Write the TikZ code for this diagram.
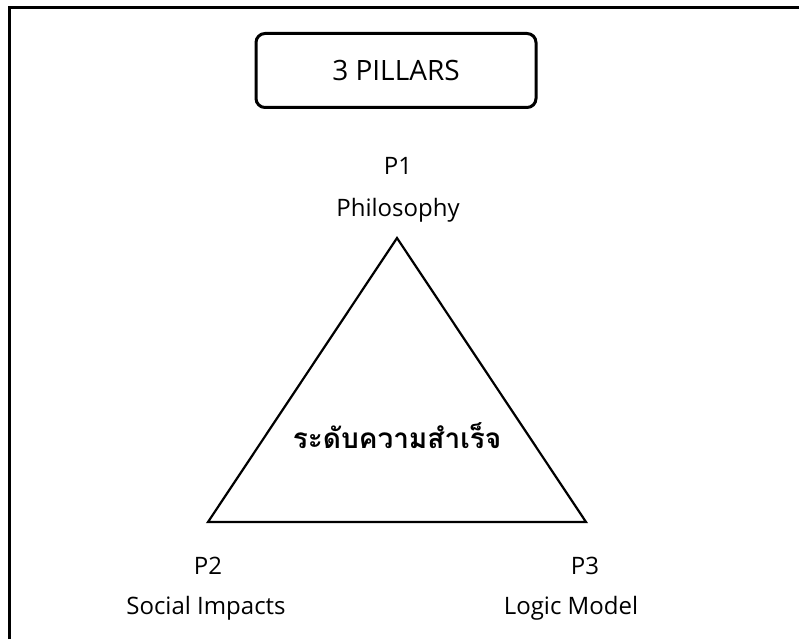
\documentclass[tikz,border=0pt]{standalone}
\usepackage{fontspec}
\setmainfont{Open Sans}
\newfontfamily\thaifont[Script=Thai]{Loma}
\begin{document}
\begin{tikzpicture}[x=1pt,y=-1pt,
  lbl/.style={font=\fontsize{24}{28}\selectfont, inner sep=0pt},
  titlebox/.style={draw, line width=3pt, rounded corners=9pt, minimum width=280pt, minimum height=74pt, font=\fontsize{28}{32}\selectfont},
  tri/.style={line width=2.2pt, line join=miter}]
\useasboundingbox (0,0) rectangle (799,639);
\draw[line width=3pt] (9.5,639) -- (9.5,7.5) -- (799,7.5);
\node[titlebox] (title) at (396,70.5) {3 PILLARS};
\coordinate (a) at (397,238);
\coordinate (b) at (208,522);
\coordinate (c) at (586,522);
\draw[tri] (a) -- (b) -- (c) -- cycle;
\node[font=\thaifont\bfseries\fontsize{28}{32}\selectfont, inner sep=0pt] (center) at (397,436) {ระดับความสำเร็จ};
\node[lbl] (p1) at (398,166) {P1};
\node[lbl] (p1n) at (398,210) {Philosophy};
\node[lbl] (p2) at (208,566) {P2};
\node[lbl] (p2n) at (206,608) {Social Impacts};
\node[lbl] (p3) at (585,566) {P3};
\node[lbl] (p3n) at (571,608) {Logic Model};
\end{tikzpicture}
\end{document}
